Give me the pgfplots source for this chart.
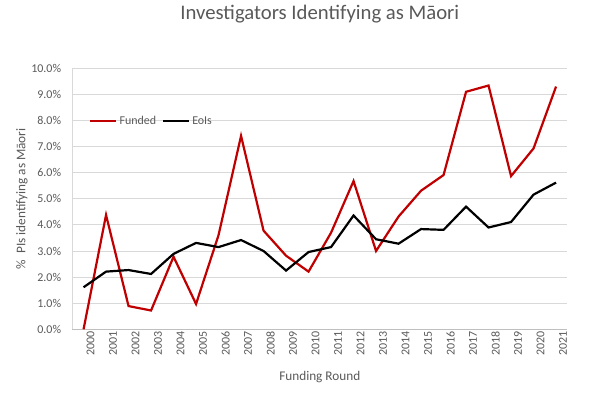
\documentclass[border=0pt]{standalone}
\usepackage{pgfplots}
\pgfplotsset{compat=1.18}
\usepackage{fontspec}
\setmainfont{Carlito}
\definecolor{txt}{HTML}{595959}
\definecolor{fund}{HTML}{C00000}
\definecolor{grid}{HTML}{D9D9D9}
\definecolor{base}{HTML}{BFBFBF}
\begin{document}
\begin{tikzpicture}
\path[use as bounding box] (0bp,0bp) rectangle (595bp,394bp);
\begin{axis}[
  at={(72.3bp,64.7bp)}, anchor=south west,
  scale only axis, width=495bp, height=261bp,
  xmin=1999.5, xmax=2021.5, ymin=0, ymax=10,
  xtick={2000,...,2021},
  xticklabels={2000,2001,2002,2003,2004,2005,2006,2007,2008,2009,2010,2011,2012,2013,2014,2015,2016,2017,2018,2019,2020,2021},
  ytick={0,1,...,10},
  yticklabel={\pgfmathprintnumber[fixed,fixed zerofill,precision=1]{\tick}\%},
  /pgf/number format/assume math mode=true,
  ymajorgrids, major grid style={draw=grid, line width=0.8bp},
  major tick length=0pt,
  axis x line*=bottom, axis y line*=left,
  x axis line style={-, draw=base, line width=0.8bp},
  y axis line style={-, draw=grid, line width=0.8bp},
  tick label style={font=\fontsize{12}{14}\selectfont, text=txt},
  xticklabel style={rotate=90, anchor=east, inner sep=2bp, yshift=-7bp},
  yticklabel style={inner sep=2bp, xshift=-9bp},
  title={Investigators Identifying as Māori},
  title style={font=\fontsize{20.8}{24}\selectfont, text=txt, at={(0.5,1)}, anchor=base, yshift=43.3bp},
  xlabel={Funding Round},
  xlabel style={font=\fontsize{13.3}{15}\selectfont, text=txt, at={(0.5,0)}, anchor=base, yshift=-51bp},
  ylabel={\%\ \ PIs identifying as Māori},
  ylabel style={font=\fontsize{13.3}{15}\selectfont, text=txt, at={(0,0.5)}, anchor=base},
  every axis y label/.append style={yshift=47bp},
  legend style={at={(0.034,0.798)}, anchor=west, draw=none, fill=none,
    legend columns=2, font=\fontsize{12}{14}\selectfont, text=txt,
    /tikz/every even column/.append style={column sep=4bp},
    inner sep=0pt, row sep=0pt},
  legend image code/.code={\draw[#1] (0bp,0bp) -- (26bp,0bp);},
  clip=false,
]
\addplot[fund, line width=2.2bp] coordinates {
(2000,0.0) (2001,4.38) (2002,0.89) (2003,0.72) (2004,2.78) (2005,0.97)
(2006,3.61) (2007,7.41) (2008,3.78) (2009,2.82) (2010,2.21) (2011,3.70)
(2012,5.68) (2013,3.00) (2014,4.32) (2015,5.31) (2016,5.91) (2017,9.10)
(2018,9.34) (2019,5.87) (2020,6.93) (2021,9.30)};
\addlegendentry{Funded}
\addplot[black, line width=2.2bp] coordinates {
(2000,1.61) (2001,2.21) (2002,2.27) (2003,2.12) (2004,2.89) (2005,3.31)
(2006,3.15) (2007,3.42) (2008,3.00) (2009,2.25) (2010,2.96) (2011,3.15)
(2012,4.36) (2013,3.45) (2014,3.28) (2015,3.84) (2016,3.81) (2017,4.70)
(2018,3.90) (2019,4.11) (2020,5.16) (2021,5.62)};
\addlegendentry{EoIs}
\end{axis}
\end{tikzpicture}
\end{document}
